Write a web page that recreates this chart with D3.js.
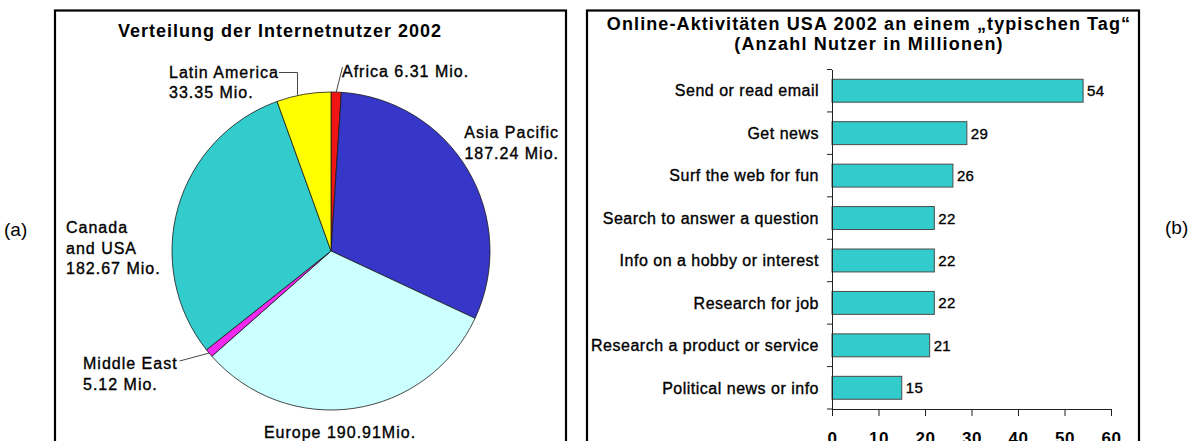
<!DOCTYPE html>
<html>
<head>
<meta charset="utf-8">
<script src="https://cdn.jsdelivr.net/npm/d3@7"></script>
<style>
  html, body { margin: 0; padding: 0; background: #fff; }
  svg { display: block; font-family: "Liberation Sans", Arial, sans-serif; }
  .heavy { stroke: #000; stroke-width: 0.35px; }
</style>
</head>
<body>
<svg id="chart" width="1199" height="441"></svg>
<script>
// ---- (a) Internet users 2002 by region (millions) ----
const regions = ["Africa", "Asia Pacific", "Europe", "Middle East", "Canada and USA", "Latin America"];
const regionUsers = [6.31, 187.24, 190.91, 5.12, 182.67, 33.35];
const regionColors = ["#f01414", "#3636c8", "#ccffff", "#f028f0", "#33cccc", "#ffff00"];

// ---- (b) Online activities USA 2002 on a typical day (users in millions) ----
const activities = [
  "Send or read email",
  "Get news",
  "Surf the web for fun",
  "Search to answer a question",
  "Info on a hobby or interest",
  "Research for job",
  "Research a product or service",
  "Political news or info"
];
const activityUsers = [54, 29, 26, 22, 22, 22, 21, 15];
const xTickValues = [0, 10, 20, 30, 40, 50, 60];

const svg = d3.select("#chart");
const fmt2 = d3.format(".2f");

// text lines for each pie label, value part formatted from the data
function pieLabelLines(i) {
  const v = fmt2(regionUsers[i]);
  switch (regions[i]) {
    case "Africa": return [`Africa ${v} Mio.`];
    case "Asia Pacific": return ["Asia Pacific", `${v} Mio.`];
    case "Europe": return [`Europe ${v}Mio.`];
    case "Middle East": return ["Middle East", `${v} Mio.`];
    case "Canada and USA": return ["Canada", "and USA", `${v} Mio.`];
    default: return ["Latin America", `${v} Mio.`];
  }
}

// ---------- panel frames ----------
svg.append("rect").attr("x", 55).attr("y", 10.5).attr("width", 511).attr("height", 470)
  .attr("fill", "none").attr("stroke", "#000").attr("stroke-width", 2.2);
svg.append("rect").attr("x", 587).attr("y", 10.5).attr("width", 552).attr("height", 470)
  .attr("fill", "none").attr("stroke", "#000").attr("stroke-width", 2.2);

svg.append("text").attr("x", 4).attr("y", 236).attr("font-size", 19).text("(a)");
svg.append("text").attr("x", 1165).attr("y", 234).attr("font-size", 19).text("(b)");

// ---------- pie ----------
const cx = 331, cy = 251, r = 159;
const pieG = svg.append("g").attr("transform", `translate(${cx},${cy})`);
const pie = d3.pie().sort(null).value(d => d)(regionUsers);
const arc = d3.arc().innerRadius(0).outerRadius(r);

pieG.selectAll("path.slice").data(pie).join("path")
  .attr("class", "slice")
  .attr("d", arc)
  .attr("fill", (d, i) => regionColors[i])
  .attr("stroke", "#1a1a1a")
  .attr("stroke-width", 0.8)
  .attr("stroke-linejoin", "round");

svg.append("text").attr("x", 280).attr("y", 37)
  .attr("text-anchor", "middle").attr("font-size", 18).attr("font-weight", "bold")
  .attr("letter-spacing", 1).text("Verteilung der Internetnutzer 2002");

const pieLabelLayout = [
  { x: 342, y: 77, anchor: "start" },   // Africa
  { x: 559, y: 138, anchor: "end" },    // Asia Pacific
  { x: 340, y: 438, anchor: "middle" }, // Europe
  { x: 83, y: 369, anchor: "start" },   // Middle East
  { x: 66, y: 233, anchor: "start" },   // Canada and USA
  { x: 169, y: 77.5, anchor: "start" }  // Latin America
];
const lineH = 20.5;

const labelNodes = regions.map((name, i) => {
  const L = pieLabelLayout[i];
  const t = svg.append("text")
    .attr("class", "heavy")
    .attr("font-size", 16).attr("letter-spacing", 1)
    .attr("text-anchor", L.anchor).attr("fill", "#000");
  pieLabelLines(i).forEach((line, k) => {
    t.append("tspan").attr("x", L.x).attr("y", L.y + k * lineH).text(line);
  });
  return t;
});

// leader lines
function edgePoint(d) {
  const a = (d.startAngle + d.endAngle) / 2;
  return [cx + r * Math.sin(a), cy - r * Math.cos(a)];
}
const leader = d3.line();
const leaderG = svg.append("g").attr("fill", "none").attr("stroke", "#333").attr("stroke-width", 0.9);

// Africa
{
  const [ex, ey] = edgePoint(pie[0]);
  leaderG.append("path").attr("d", leader([[342.5, 67], [ex, ey]]));
}
// Middle East
{
  const [ex, ey] = edgePoint(pie[3]);
  const me = labelNodes[3].select("tspan").node();
  const endX = 83 + me.getComputedTextLength() + 2;
  leaderG.append("path").attr("d", leader([[endX, 361], [ex, ey]]));
}
// Latin America: elbow leader down to the rim
{
  const la = labelNodes[5].select("tspan").node();
  const sx = 169 + la.getComputedTextLength();
  const vx = 297.5;
  const vy = cy - Math.sqrt(r * r - (vx - cx) * (vx - cx));
  leaderG.append("path").attr("d", leader([[sx, 72.5], [vx, 72.5], [vx, vy]]));
}

// ---------- bar chart ----------
const x = d3.scaleLinear().domain([0, 60]).range([832, 1111]);
const y = d3.scaleBand().domain(activities).range([69.5, 409])
  .paddingInner(0.46).paddingOuter(0.23);

svg.append("text").attr("x", 869).attr("y", 30)
  .attr("text-anchor", "middle").attr("font-size", 18).attr("font-weight", "bold")
  .attr("letter-spacing", 1.1).text("Online-Aktivitäten USA 2002 an einem „typischen Tag“");
svg.append("text").attr("x", 869).attr("y", 50)
  .attr("text-anchor", "middle").attr("font-size", 18).attr("font-weight", "bold")
  .attr("letter-spacing", 1.2).text("(Anzahl Nutzer in Millionen)");

svg.append("g").selectAll("rect").data(activities).join("rect")
  .attr("x", x(0))
  .attr("y", d => y(d))
  .attr("width", (d, i) => x(activityUsers[i]) - x(0))
  .attr("height", y.bandwidth())
  .attr("fill", "#33cccc")
  .attr("stroke", "#4a4a4a")
  .attr("stroke-width", 1);

svg.append("g").selectAll("text").data(activities).join("text")
  .attr("class", "heavy")
  .attr("x", (d, i) => x(activityUsers[i]) + 4)
  .attr("y", d => y(d) + y.bandwidth() / 2 + 5.5)
  .attr("font-size", 15).attr("letter-spacing", 0.3)
  .text((d, i) => activityUsers[i]);

// category axis: labels at band centres, ticks on band boundaries
const yAxis = svg.append("g").attr("transform", `translate(${x(0)},0)`)
  .call(d3.axisLeft(y).tickSize(0).tickSizeOuter(0).tickPadding(13));
yAxis.select(".domain").attr("stroke", "#222");
yAxis.selectAll("text").attr("font-size", 16).attr("letter-spacing", 0.5)
  .attr("class", "heavy")
  .attr("fill", "#000").attr("font-family", "Liberation Sans, Arial, sans-serif")
  .attr("dy", "0.36em");
const boundaries = d3.range(activities.length + 1).map(i => y.range()[0] + i * y.step());
yAxis.selectAll("line.boundary").data(boundaries).join("line")
  .attr("class", "boundary")
  .attr("x1", -5).attr("x2", 0)
  .attr("y1", d => d).attr("y2", d => d)
  .attr("stroke", "#222");

const xAxis = svg.append("g").attr("transform", `translate(0,${y.range()[1]})`)
  .call(d3.axisBottom(x).tickValues(xTickValues).tickSize(7).tickSizeOuter(0).tickPadding(16));
xAxis.select(".domain").attr("stroke", "#222");
xAxis.selectAll(".tick line").attr("stroke", "#222");
xAxis.selectAll("text").attr("font-size", 17).attr("font-weight", "bold")
  .attr("letter-spacing", 0.5).attr("fill", "#000")
  .attr("font-family", "Liberation Sans, Arial, sans-serif");
</script>
</body>
</html>
